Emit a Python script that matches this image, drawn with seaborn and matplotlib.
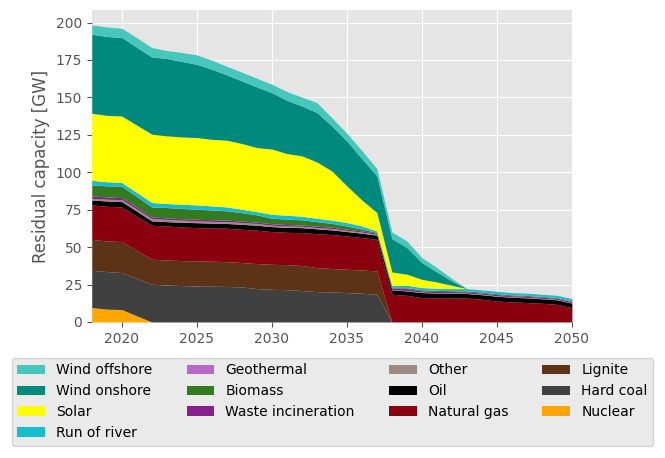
import matplotlib
matplotlib.use("Agg")
import matplotlib.pyplot as plt
import seaborn as sns
import numpy as np

years = list(range(2018, 2051))

nuclear = [9.6, 8.6, 8.3, 4.1] + [0.0] * 29
hard_coal = [24.9, 25.1, 24.7, 25.0, 25.2, 24.7, 24.3, 24.0, 23.9, 23.7, 23.4, 22.3, 21.8,
             21.6, 21.0, 20.3, 20.0, 19.6, 19.2, 18.5] + [0.0] * 13
lignite = [20.7, 20.4, 20.7, 18.7, 16.7, 16.7, 16.7, 16.8, 16.7, 16.6, 16.3, 16.7, 16.7,
           16.7, 16.7, 16.0, 15.7, 15.6, 15.5, 15.6] + [0.0] * 13
natural_gas = [23.0, 23.2, 23.1, 22.9, 22.7, 22.7, 22.5, 22.2, 22.2, 22.3, 22.2, 22.3, 21.9,
               21.6, 22.0, 22.7, 22.7, 22.3, 21.7, 21.1, 18.5, 17.8, 16.3, 16.0, 16.0, 16.0,
               15.2, 14.0, 13.4, 13.0, 12.5, 11.8, 9.6]
oil = [3.3, 3.5, 3.6, 3.3, 2.9, 2.9, 3.1, 3.3, 3.2, 3.2, 3.3, 3.3, 3.3, 3.3, 3.3, 3.2, 3.1,
       2.9, 2.9, 2.8, 3.0, 2.9, 3.3, 3.3, 3.2, 3.0, 3.0, 3.2, 3.1, 3.1, 3.0, 3.0, 3.0]
other = [1.1, 1.2, 1.3, 1.4, 1.6, 1.5, 1.4, 1.2, 1.2, 1.2, 1.2, 1.2, 0.9, 0.9, 0.9, 0.9, 0.9,
         0.8, 0.7, 0.6, 0.3, 0.3, 0.3, 0.3, 0.3, 0.3, 0.3, 0.3, 0.3, 0.3, 0.3, 0.3, 0.3]
waste = [1.6, 1.5, 1.4, 1.3, 1.1, 1.0, 1.0, 1.1, 1.1, 1.0, 1.0, 0.9, 1.0, 1.0, 0.9, 0.9, 0.9,
         0.8, 0.8, 0.7, 0.9, 1.3, 0.8, 0.8, 0.8, 0.8, 0.8, 0.8, 0.7, 0.7, 0.7, 0.7, 0.7]
biomass = [7.3, 7.4, 7.5, 7.0, 6.6, 6.9, 6.8, 6.7, 6.5, 6.2, 5.6, 4.8, 3.7, 3.6, 3.4, 3.0, 2.5,
           2.1, 1.2, 0.5, 0.3, 0.5, 0.8, 0.7, 0.6, 0.7, 0.6, 0.6, 0.6, 0.6, 0.5, 0.5, 0.5]
geothermal = [0.1] * 33
run_of_river = [3.0, 2.7, 2.4, 2.7, 2.9, 2.6, 2.7, 2.8, 2.6, 2.5, 2.2, 2.1, 2.5, 2.5, 2.3, 2.2,
                2.1, 2.2, 2.0, 0.9, 1.4, 1.6, 1.4, 1.3, 1.3, 1.4, 1.4, 1.5, 1.4, 1.4, 1.4, 1.4, 1.4]
solar = [44.8, 44.3, 44.5, 45.0, 45.6, 45.2, 45.0, 45.0, 44.5, 44.6, 43.9, 42.8, 43.6, 41.2,
         40.4, 37.6, 32.9, 24.5, 17.4, 12.3, 8.9, 7.4, 5.5, 4.2, 2.2] + [0.0] * 8
wind_onshore = [52.8, 52.7, 52.4, 52.0, 51.6, 51.7, 50.4, 48.9, 46.8, 43.6, 41.8, 40.5, 37.7,
                35.6, 33.3, 33.0, 30.0, 30.0, 27.6, 24.5, 22.3, 17.8, 11.2, 6.7, 2.9] + [0.0] * 8
wind_offshore = [6.2, 6.3, 6.2, 6.3, 6.3, 5.3, 6.0, 6.3, 6.0, 5.8, 5.8, 5.8, 5.6, 5.8, 5.9,
                 6.6, 5.5, 5.1, 5.4, 4.9, 4.4, 4.4, 3.3, 2.9, 1.6] + [0.0] * 8

labels = ["Nuclear", "Hard coal", "Lignite", "Natural gas", "Oil", "Other",
          "Waste incineration", "Biomass", "Geothermal", "Run of river", "Solar",
          "Wind onshore", "Wind offshore"]
series = [nuclear, hard_coal, lignite, natural_gas, oil, other, waste, biomass,
          geothermal, run_of_river, solar, wind_onshore, wind_offshore]
colors = ["#ffa500", "#404040", "#5c3317", "#8b000f", "#000000", "#9e8a85",
          "#881f91", "#347a21", "#ba68c8", "#16bccf", "#ffff00", "#008a7d", "#47c6bb"]

sns.set_theme(context="notebook", style="darkgrid", rc={
    "axes.facecolor": "#E5E5E5",
    "axes.edgecolor": "white",
    "axes.linewidth": 1,
    "grid.color": "white",
    "grid.linewidth": 0.8,
    "axes.axisbelow": True,
    "xtick.bottom": True,
    "ytick.left": True,
    "xtick.color": "#555555",
    "ytick.color": "#555555",
    "xtick.major.size": 3.5,
    "ytick.major.size": 3.5,
    "xtick.major.width": 0.8,
    "ytick.major.width": 0.8,
    "xtick.direction": "out",
    "ytick.direction": "out",
    "xtick.labelsize": 10,
    "ytick.labelsize": 10,
    "axes.labelsize": 12,
    "axes.labelcolor": "#555555",
    "font.size": 10,
    "legend.fontsize": 10,
})
plt.rcParams["font.family"] = ["DejaVu Sans"]

pal = sns.color_palette(colors)

fig = plt.figure(figsize=(6.65, 4.58), dpi=100)
ax = fig.add_axes([0.138, 0.297, 0.722, 0.681])
ax.stackplot(years, np.array(series), colors=pal, labels=labels, linewidth=0)
ax.set_xlim(2018, 2050)
totals = np.array(series).sum(axis=0)
ax.set_ylim(0, totals.max() * 1.05)
ax.set_xticks([2020, 2025, 2030, 2035, 2040, 2045, 2050])
ax.set_yticks([0, 25, 50, 75, 100, 125, 150, 175, 200])
ax.set_ylabel("Residual capacity [GW]")
for s in ax.spines.values():
    s.set_visible(False)

handles, labs = ax.get_legend_handles_labels()
leg = fig.legend(handles[::-1], labs[::-1], ncol=4, loc="upper center",
                 bbox_to_anchor=(0.5, 0.234), fontsize=10, columnspacing=2.45,
                 facecolor="#E5E5E5", edgecolor="0.8", framealpha=0.8, fancybox=True)
for t in leg.get_texts():
    t.set_color("black")

fig.savefig("out.png", dpi=100)
